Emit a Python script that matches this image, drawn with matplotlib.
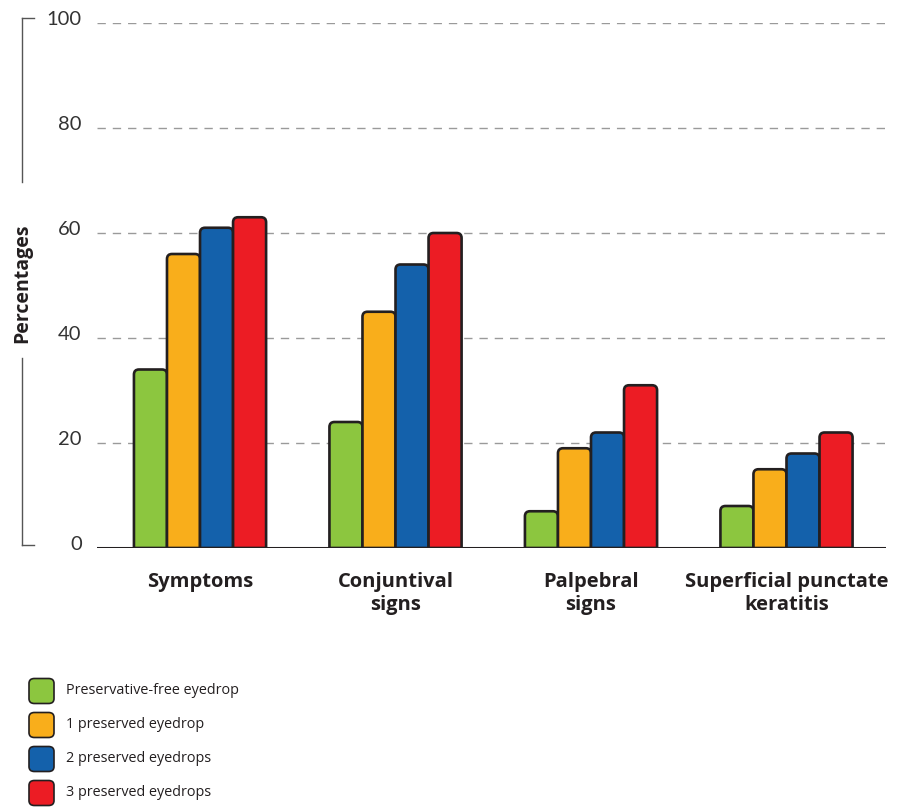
import matplotlib
matplotlib.use("Agg")
import matplotlib.pyplot as plt
from matplotlib.path import Path
from matplotlib.patches import PathPatch, FancyBboxPatch
from matplotlib.lines import Line2D
import matplotlib.transforms as mtransforms

categories = ["Symptoms", "Conjuntival\nsigns", "Palpebral\nsigns", "Superficial punctate\nkeratitis"]
series_names = ["Preservative-free eyedrop", "1 preserved eyedrop",
                "2 preserved eyedrops", "3 preserved eyedrops"]
preservative_free = [34, 24, 7, 8]
one_preserved = [56, 45, 19, 15]
two_preserved = [61, 54, 22, 18]
three_preserved = [63, 60, 31, 22]
yticks = [0, 20, 40, 60, 80, 100]

series = [preservative_free, one_preserved, two_preserved, three_preserved]
colors = ["#8cc63f", "#f9ae1b", "#1461ab", "#ec1c24"]
edge = "#231f20"

W, H = 898, 809
fig = plt.figure(figsize=(W / 100, H / 100), dpi=100)
ax = fig.add_axes([97 / W, 1 - 548 / H, (886 - 97) / W, (548 - 23) / H])

xlim = (-0.527, 3.509)
ax.set_xlim(*xlim)
ax.set_ylim(0, 100)

bar_w = 0.169
px_x = (886 - 97) / (xlim[1] - xlim[0])
px_y = (548 - 23) / 100.0
r_px = 5.0
rx, ry = r_px / px_x, r_px / px_y


def rounded_bar(x0, x1, h):
    r_y = min(ry, h / 2)
    verts = [(x0, 0), (x0, h - r_y), (x0, h), (x0 + rx, h),
             (x1 - rx, h), (x1, h), (x1, h - r_y), (x1, 0), (x0, 0)]
    codes = [Path.MOVETO, Path.LINETO, Path.CURVE3, Path.CURVE3,
             Path.LINETO, Path.CURVE3, Path.CURVE3, Path.LINETO, Path.CLOSEPOLY]
    return Path(verts, codes)


for i, (vals, col) in enumerate(zip(series, colors)):
    off = (i - 1.5) * bar_w
    for g, v in enumerate(vals):
        cx = g + off
        p = PathPatch(rounded_bar(cx - bar_w / 2, cx + bar_w / 2, v),
                      facecolor=col, edgecolor=edge, linewidth=1.9,
                      joinstyle="round", zorder=3)
        ax.add_patch(p)

# dashed grid and solid baseline
for t in yticks[1:]:
    ax.axhline(t, color="#9a9a9a", linewidth=1.0, linestyle=(0, (6, 5)), zorder=1)
ax.axhline(0, color=edge, linewidth=2.2, zorder=4)

for s in ax.spines.values():
    s.set_visible(False)

ax.set_yticks(yticks)
ax.set_yticklabels([str(t) for t in yticks], fontsize=14.5, color="#333333",
                   family="Lato", fontweight="normal")
ax.tick_params(axis="y", length=0, pad=11)
shift = mtransforms.ScaledTranslation(0, 5 / 100, fig.dpi_scale_trans)
for lbl in ax.get_yticklabels():
    lbl.set_transform(lbl.get_transform() + shift)

ax.set_xticks(range(len(categories)))
ax.set_xticklabels(categories, fontsize=14.5, fontweight="bold", color="#231f20",
                   family="Open Sans", linespacing=1.25)
ax.tick_params(axis="x", length=0, pad=17)

# y-axis title with bracket line
fig.text(22 / W, 1 - 283 / H, "Percentages", rotation=90, ha="center", va="center",
         fontsize=14, fontweight="bold", family="Open Sans", color="#231f20")
bc = "#555555"
lw = 1.0
fig.add_artist(Line2D([22 / W, 22 / W], [1 - 18 / H, 1 - 182 / H], color=bc, lw=lw))
fig.add_artist(Line2D([22 / W, 22 / W], [1 - 358 / H, 1 - 545 / H], color=bc, lw=lw))
fig.add_artist(Line2D([22 / W, 34 / W], [1 - 18 / H, 1 - 18 / H], color=bc, lw=lw))
fig.add_artist(Line2D([22 / W, 34 / W], [1 - 545 / H, 1 - 545 / H], color=bc, lw=lw))

# legend
for k, (name, col) in enumerate(zip(series_names, colors)):
    yc = 691 + 34 * k
    box = FancyBboxPatch((29 / W, 1 - (yc + 12.5) / H), 25 / W, 25 / H,
                         boxstyle="round,pad=0,rounding_size=0.006",
                         transform=fig.transFigure, facecolor=col,
                         edgecolor=edge, linewidth=1.2)
    fig.add_artist(box)
    fig.text(66 / W, 1 - yc / H, name, ha="left", va="center", fontsize=10.4,
             family="Open Sans", color="#231f20")

fig.savefig("out.png", dpi=100)
